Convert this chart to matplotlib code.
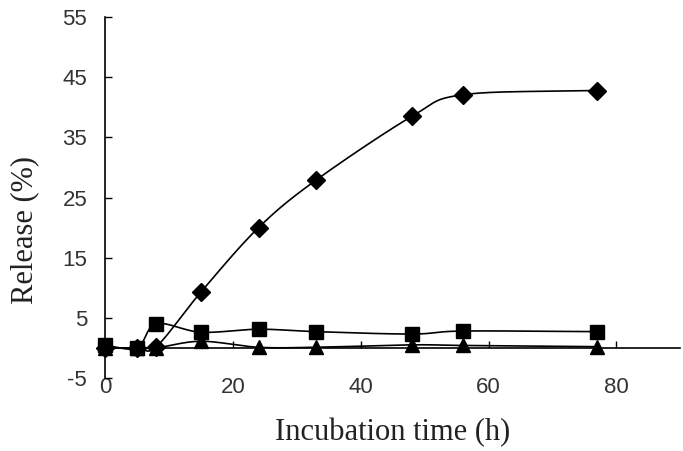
import numpy as np
import matplotlib
matplotlib.use("Agg")
import matplotlib.pyplot as plt

plt.rcParams['axes.unicode_minus'] = False

time_h = [0, 5, 8, 15, 24, 33, 48, 56, 77]
diamond = [0.0, 0.0, 0.2, 9.3, 20.0, 27.9, 38.5, 42.1, 42.8]
square = [0.4, 0.0, 4.0, 2.6, 3.1, 2.7, 2.3, 2.8, 2.7]
triangle = [0.0, 0.0, 0.0, 1.1, 0.1, 0.1, 0.5, 0.4, 0.2]

x_ticks = [0, 20, 40, 60, 80]
y_ticks = [-5, 5, 15, 25, 35, 45, 55]


def smooth(x, y, n=20):
    # Catmull-Rom style smoothing of the drawn line (like spreadsheet smoothed lines)
    x = np.asarray(x, float)
    y = np.asarray(y, float)
    px = np.concatenate([[2 * x[0] - x[1]], x, [2 * x[-1] - x[-2]]])
    py = np.concatenate([[2 * y[0] - y[1]], y, [2 * y[-1] - y[-2]]])
    xs, ys = [], []
    t = np.linspace(0, 1, n, endpoint=False)
    for i in range(1, len(px) - 2):
        p0x, p1x, p2x, p3x = px[i - 1:i + 3]
        p0y, p1y, p2y, p3y = py[i - 1:i + 3]
        m1x, m2x = (p2x - p0x) / 6, (p3x - p1x) / 6
        m1y, m2y = (p2y - p0y) / 6, (p3y - p1y) / 6
        b0 = (1 - t) ** 3
        b1 = 3 * (1 - t) ** 2 * t
        b2 = 3 * (1 - t) * t ** 2
        b3 = t ** 3
        xs.extend(b0 * p1x + b1 * (p1x + m1x) + b2 * (p2x - m2x) + b3 * p2x)
        ys.extend(b0 * p1y + b1 * (p1y + m1y) + b2 * (p2y - m2y) + b3 * p2y)
    xs.append(x[-1])
    ys.append(y[-1])
    return np.array(xs), np.array(ys)


fig = plt.figure(figsize=(6.83, 4.51), dpi=100)
ax = fig.add_axes([0.154, 0.162, 0.842, 0.80])

for data, marker, ms in [(diamond, 'D', 9), (square, 's', 10.5), (triangle, '^', 10)]:
    sx, sy = smooth(time_h, data)
    ax.plot(sx, sy, color='black', lw=1.2, clip_on=False, zorder=3)
    ax.plot(time_h, data, linestyle='none', marker=marker, ms=ms,
            color='black', clip_on=False, zorder=4)

ax.set_xlim(0, 90)
ax.set_ylim(-5, 55)
ax.set_xticks(x_ticks)
ax.set_yticks(y_ticks)

for s in ['top', 'right']:
    ax.spines[s].set_visible(False)
ax.spines['bottom'].set_position(('data', 0))
ax.spines['bottom'].set_linewidth(1.2)
ax.spines['left'].set_linewidth(1.2)

ax.tick_params(axis='both', direction='in', length=5, width=1.0,
               labelsize=16, colors='black')
ax.tick_params(axis='x', pad=21)
ax.tick_params(axis='y', pad=13)
for lab in ax.get_xticklabels() + ax.get_yticklabels():
    lab.set_family(['Liberation Sans'])
    lab.set_color('#333333')

ax.set_xlabel('Incubation time (h)', family='Liberation Serif', fontsize=22,
              color='#222222')
ax.set_ylabel('Release (%)', family='Liberation Serif', fontsize=22,
              color='#222222')
ax.xaxis.set_label_coords(0.5, -0.112)
ax.yaxis.set_label_coords(-0.115, 0.41)

fig.savefig('out.png', dpi=100)
